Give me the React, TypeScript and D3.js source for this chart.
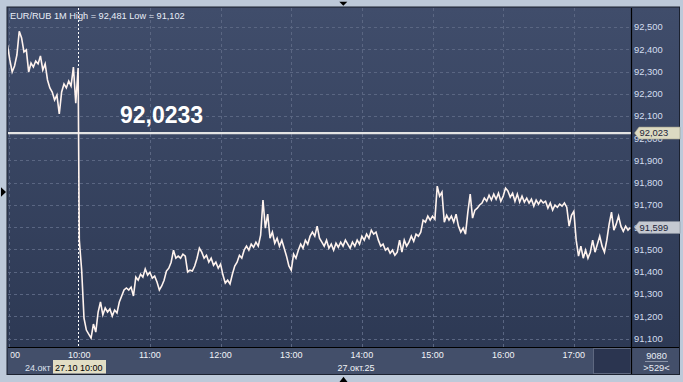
import React from "react";
import * as d3 from "d3";

const W = 683;
const H = 382;

const title = "EUR/RUB 1M High = 92,481 Low = 91,102";
const priceTicks = [92.5, 92.4, 92.3, 92.2, 92.1, 92.0, 91.9, 91.8, 91.7, 91.6, 91.5, 91.4, 91.3, 91.2, 91.1];
const hourTicks = [-60, 0, 60, 120, 180, 240, 300, 360, 420];
const hourLabels = ["23:00", "10:00", "11:00", "12:00", "13:00", "14:00", "15:00", "16:00", "17:00"];

// 24 Oct session (minutes before 27.10 10:00, 2-minute step)
const oct24Start = -61;
const oct24Prices = [
  92.419, 92.352, 92.298, 92.325, 92.374, 92.481, 92.451, 92.388, 92.397, 92.298,
  92.338, 92.320, 92.347, 92.334, 92.370, 92.307, 92.334, 92.262, 92.226, 92.208,
  92.172, 92.194, 92.109, 92.208, 92.244, 92.226, 92.257, 92.235, 92.320, 92.158,
  92.316,
];

// 27 Oct session (minutes from 10:00, 2-minute step)
const oct27Start = 0;
const oct27Prices = [
  91.543, 91.408, 91.192, 91.138, 91.120, 91.102, 91.165, 91.129, 91.219, 91.264,
  91.206, 91.237, 91.219, 91.233, 91.201, 91.228, 91.215, 91.264, 91.291, 91.318,
  91.327, 91.318, 91.331, 91.291, 91.376, 91.362, 91.389, 91.376, 91.412, 91.385,
  91.398, 91.371, 91.380, 91.354, 91.318, 91.336, 91.362, 91.403, 91.416, 91.443,
  91.497, 91.461, 91.470, 91.461, 91.479, 91.470, 91.399, 91.407, 91.403, 91.426,
  91.461, 91.506, 91.488, 91.461, 91.474, 91.443, 91.461, 91.429, 91.443, 91.416,
  91.434, 91.385, 91.349, 91.362, 91.345, 91.389, 91.426, 91.443, 91.474, 91.461,
  91.497, 91.515, 91.497, 91.524, 91.510, 91.533, 91.515, 91.564, 91.722, 91.596,
  91.659, 91.551, 91.578, 91.528, 91.551, 91.515, 91.542, 91.506, 91.470, 91.426,
  91.407, 91.479, 91.461, 91.497, 91.524, 91.506, 91.542, 91.524, 91.560, 91.578,
  91.560, 91.605, 91.551, 91.533, 91.515, 91.542, 91.506, 91.524, 91.497, 91.528,
  91.510, 91.533, 91.515, 91.542, 91.524, 91.506, 91.533, 91.515, 91.542, 91.524,
  91.560, 91.542, 91.569, 91.551, 91.587, 91.569, 91.578, 91.542, 91.515, 91.524,
  91.497, 91.506, 91.483, 91.497, 91.474, 91.488, 91.542, 91.488, 91.542, 91.515,
  91.533, 91.560, 91.537, 91.569, 91.560, 91.578, 91.632, 91.623, 91.650, 91.632,
  91.650, 91.636, 91.785, 91.740, 91.758, 91.623, 91.654, 91.632, 91.650, 91.623,
  91.659, 91.605, 91.578, 91.596, 91.569, 91.668, 91.749, 91.641, 91.677, 91.686,
  91.700, 91.709, 91.731, 91.717, 91.744, 91.722, 91.749, 91.726, 91.753, 91.717,
  91.740, 91.776, 91.763, 91.735, 91.753, 91.717, 91.749, 91.713, 91.740, 91.713,
  91.731, 91.709, 91.726, 91.695, 91.722, 91.704, 91.722, 91.709, 91.717, 91.686,
  91.709, 91.677, 91.700, 91.690, 91.704, 91.695, 91.709, 91.690, 91.605, 91.654,
  91.672, 91.542, 91.470, 91.515, 91.461, 91.497, 91.461, 91.488, 91.542, 91.488,
  91.524, 91.560, 91.515, 91.488, 91.542, 91.614, 91.668, 91.587, 91.614, 91.650,
  91.605, 91.582, 91.605, 91.587, 91.599,
];

const refLevel = 92.0233;
const refTag = 92.023;
const lastPrice = 91.599;
const dateLabels = ["24.окт", "27.10 10:00", "27.окт.25"];
const volumeText = "9080";
const countText = ">529<";

const FONT = "'Liberation Sans', Arial, sans-serif";
const fmt = (v: number, d: number) => d3.format(`.${d}f`)(v).replace(".", ",");

export default function App() {
  const x = d3.scaleLinear().domain([-60, 470]).range([8.65, 632.7]);
  const y = d3.scaleLinear().domain([91.1, 92.5]).range([338.5, 27]);

  const pts: [number, number][] = [
    ...oct24Prices.map((v, i) => [oct24Start + 2 * i, v] as [number, number]),
    ...oct27Prices.map((v, i) => [oct27Start + 2 * i, v] as [number, number]),
  ];
  const line = d3
    .line<[number, number]>()
    .x((d) => x(d[0]))
    .y((d) => y(d[1]));

  const plotL = 8, plotR = 631, plotT = 8, plotB = 347;
  const refY = y(refLevel);
  const lastY = y(lastPrice);
  const x0 = x(0);

  const tag = (cy: number) =>
    `M${plotR + 3.5},${cy} L${plotR + 8},${cy - 6} L680,${cy - 6} L680,${cy + 6} L${plotR + 8},${cy + 6} Z`;

  return (
    <div style={{ position: "fixed", left: 0, top: 0 }}>
      <svg width={W} height={H} style={{ display: "block" }} fontFamily={FONT}>
        <defs>
          <linearGradient id="bg" x1="0" y1="0" x2="0" y2="1">
            <stop offset="0" stopColor="#404d6b" />
            <stop offset="1" stopColor="#2d3954" />
          </linearGradient>
          <clipPath id="plot">
            <rect x={plotL} y={plotT} width={plotR - plotL} height={plotB - plotT} />
          </clipPath>
          <clipPath id="xaxis">
            <rect x={10.3} y={plotB} width={plotR - 10.3} height={30} />
          </clipPath>
        </defs>
        <rect x={0} y={0} width={W} height={H} fill="#bdc9d9" />
        <rect x={7} y={7} width={672.5} height={367.5} fill="#3a4762" stroke="#1c2230" strokeWidth={1} />
        <rect x={plotL} y={plotT} width={679 - plotL} height={plotB - plotT} fill="url(#bg)" />
        <rect x={plotL} y={plotB} width={679 - plotL} height={374 - plotB} fill="#434f6a" />
        <rect x={593.5} y={348.5} width={37.5} height={25} fill="#2b3550" stroke="#5e6880" strokeWidth={1} />

        {/* grid */}
        <g stroke="#5a6682" strokeWidth={1} strokeDasharray="3,3">
          {priceTicks.map((t) => (
            <line key={t} x1={plotL} x2={plotR - 2} y1={Math.round(y(t)) + 0.5} y2={Math.round(y(t)) + 0.5} />
          ))}
          {hourTicks
            .filter((t) => t !== 0)
            .map((t) => (
              <line key={t} x1={Math.round(x(t)) + 0.5} x2={Math.round(x(t)) + 0.5} y1={plotT} y2={plotB} />
            ))}
        </g>

        {/* crosshair */}
        <line x1={Math.round(x0) - 0.5} x2={Math.round(x0) - 0.5} y1={plotT} y2={plotB} stroke="#ffffff" strokeWidth={1} strokeDasharray="2,2" />

        {/* reference level */}
        <line x1={plotL} x2={plotR} y1={refY} y2={refY} stroke="#e4e4e4" strokeWidth={2.2} />
        <text x={120} y={123} fill="#ffffff" fontSize={23} fontWeight="bold">
          {fmt(refLevel, 4)}
        </text>

        {/* price line */}
        <g clipPath="url(#plot)">
          <path d={line(pts) || ""} fill="none" stroke="#fff3ee" strokeWidth={1.6} strokeLinejoin="miter" />
        </g>

        {/* axes lines */}
        <line x1={plotR + 0.5} x2={plotR + 0.5} y1={plotT} y2={374} stroke="#000000" strokeWidth={1.2} />
        <line x1={plotL} x2={679} y1={plotB + 0.5} y2={plotB + 0.5} stroke="#000000" strokeWidth={1.2} />

        {/* right axis labels */}
        <g fill="#d4def0" fontSize={9.4}>
          {priceTicks.map((t) => (
            <text key={t} x={634} y={y(t) + 3.4}>
              {fmt(t, 3)}
            </text>
          ))}
        </g>

        {/* tags */}
        <path d={tag(refY)} fill="#dcdac2" stroke="#9c9a86" strokeWidth={0.6} />
        <text x={639.5} y={refY + 3.4} fontSize={9.4} fill="#1c2438">
          {fmt(refTag, 3)}
        </text>
        <path d={tag(lastY)} fill="#c5c9d1" stroke="#8a909c" strokeWidth={0.6} />
        <text x={639.5} y={lastY + 3.4} fontSize={9.4} fill="#1c2438">
          {fmt(lastPrice, 3)}
        </text>

        {/* bottom axis */}
        <g clipPath="url(#xaxis)" fill="#f2f4f8" fontSize={9}>
          {hourTicks.map((t, i) => (
            <text key={t} x={x(t)} y={358} textAnchor="middle">
              {hourLabels[i]}
            </text>
          ))}
        </g>
        <text x={25} y={370.5} fontSize={9} fill="#dde2ee">
          {dateLabels[0]}
        </text>
        <rect x={53} y={360} width={53} height={13.5} fill="#e2dec4" />
        <text x={55} y={370.5} fontSize={9} fill="#000000">
          {dateLabels[1]}
        </text>
        <text x={356} y={370.5} fontSize={9} fill="#f2f4f8" textAnchor="middle">
          {dateLabels[2]}
        </text>

        {/* bottom right cell */}
        <text x={656.5} y={358.5} fontSize={9.3} fill="#e8ecf4" textAnchor="middle">
          {volumeText}
        </text>
        <line x1={645} x2={668} y1={361.5} y2={361.5} stroke="#8a94a8" strokeWidth={1} />
        <text x={656.5} y={370.5} fontSize={9.3} fill="#e8ecf4" textAnchor="middle">
          {countText}
        </text>

        {/* title */}
        <text x={10} y={18.5} fontSize={9.2} fill="#e8eef8">
          {title}
        </text>

        {/* markers */}
        <path d="M339.3,1.7 L347.3,1.7 L343.3,5.8 Z" fill="#000000" />
        <path d="M1,187.3 L6,192 L1,196.7 Z" fill="#000000" />
        <path d="M339.5,382 L347.5,382 L343.5,376.7 Z" fill="#000000" />
      </svg>
    </div>
  );
}
